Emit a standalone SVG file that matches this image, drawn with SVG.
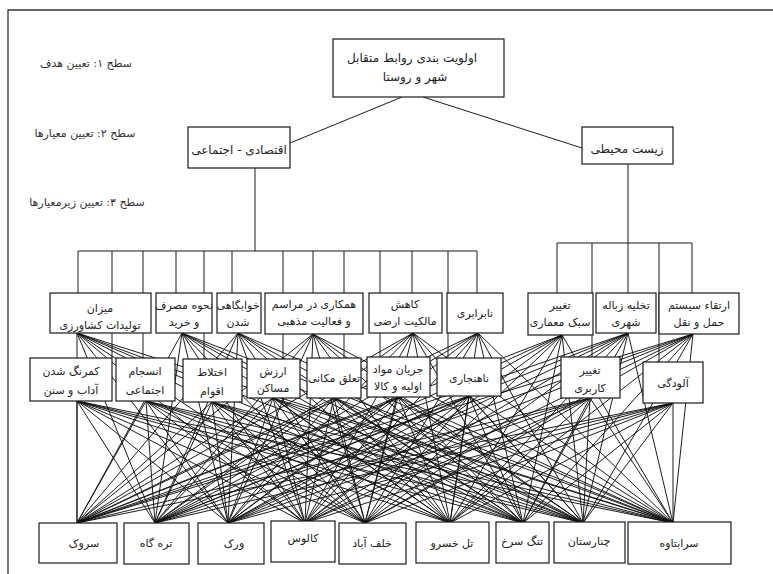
<svg xmlns="http://www.w3.org/2000/svg" width="773" height="574" viewBox="0 0 773 574">
<style>
.bx{fill:#fff;stroke:#1a1a1a;stroke-width:1.2}
.ln{fill:none;stroke:#111;stroke-width:0.95}
.fr{fill:none;stroke:#333;stroke-width:1.3}
text{font-family:"DejaVu Sans",sans-serif;font-size:11px;fill:#222;text-anchor:middle}
.lv{font-size:11px;fill:#333}
.t11{font-size:12px}
</style>
<rect width="773" height="574" fill="#fff"/>
<path class="fr" d="M8 574 V10 H773"/>
<g id="levels">
<text class="lv" x="86" y="67">سطح ۱: تعیین هدف</text>
<text class="lv" x="85" y="137">سطح ۲: تعیین معیارها</text>
<text class="lv" x="87" y="206">سطح ۳: تعیین زیرمعیارها</text>
</g>
<g id="connectors">
<path class="ln" d="M402 97 L290 143 M423 97 L582 148"/>
<path class="ln" d="M255 168 V251 M78 251 H477 M628 164 V243 M557 243 H692"/>
<path class="ln" d="M78 251 V293 M112 251 V358 M143 251 V358 M176 251 V293 M204 251 V359 M232 251 V293 M283 251 V359 M313 251 V293 M344 251 V358 M380 251 V357 M412 251 V293 M448 251 V358 M477 251 V293"/>
<path class="ln" d="M557 243 V293 M592 243 V357 M628 243 V293 M659 243 V362 M692 243 V293"/>
<path class="ln" d="M77 333 L77 523 M77 333 L155 523 M77 333 L228 523 M77 333 L305 523 M77 333 L365 523 M77 333 L450 523 M77 333 L523 523 M77 333 L583 523 M77 333 L673 523"/>
<path class="ln" d="M182 333 L77 523 M182 333 L155 523 M182 333 L228 523 M182 333 L305 523 M182 333 L365 523 M182 333 L450 523 M182 333 L523 523 M182 333 L583 523 M182 333 L673 523"/>
<path class="ln" d="M238 333 L77 523 M238 333 L155 523 M238 333 L228 523 M238 333 L305 523 M238 333 L365 523 M238 333 L450 523 M238 333 L523 523 M238 333 L583 523 M238 333 L673 523"/>
<path class="ln" d="M313 334 L77 523 M313 334 L155 523 M313 334 L228 523 M313 334 L305 523 M313 334 L365 523 M313 334 L450 523 M313 334 L523 523 M313 334 L583 523 M313 334 L673 523"/>
<path class="ln" d="M413 333 L77 523 M413 333 L155 523 M413 333 L228 523 M413 333 L305 523 M413 333 L365 523 M413 333 L450 523 M413 333 L523 523 M413 333 L583 523 M413 333 L673 523"/>
<path class="ln" d="M478 333 L77 523 M478 333 L155 523 M478 333 L228 523 M478 333 L305 523 M478 333 L365 523 M478 333 L450 523 M478 333 L523 523 M478 333 L583 523 M478 333 L673 523"/>
<path class="ln" d="M562 335 L77 523 M562 335 L155 523 M562 335 L228 523 M562 335 L305 523 M562 335 L365 523 M562 335 L450 523 M562 335 L523 523 M562 335 L583 523 M562 335 L673 523"/>
<path class="ln" d="M628 333 L77 523 M628 333 L155 523 M628 333 L228 523 M628 333 L305 523 M628 333 L365 523 M628 333 L450 523 M628 333 L523 523 M628 333 L583 523 M628 333 L673 523"/>
<path class="ln" d="M693 334 L77 523 M693 334 L155 523 M693 334 L228 523 M693 334 L305 523 M693 334 L365 523 M693 334 L450 523 M693 334 L523 523 M693 334 L583 523 M693 334 L673 523"/>
<path class="ln" d="M77 401 L77 523 M77 401 L155 523 M77 401 L228 523 M77 401 L305 523 M77 401 L365 523 M77 401 L450 523 M77 401 L523 523 M77 401 L583 523 M77 401 L673 523"/>
<path class="ln" d="M146 401 L77 523 M146 401 L155 523 M146 401 L228 523 M146 401 L305 523 M146 401 L365 523 M146 401 L450 523 M146 401 L523 523 M146 401 L583 523 M146 401 L673 523"/>
<path class="ln" d="M212 402 L77 523 M212 402 L155 523 M212 402 L228 523 M212 402 L305 523 M212 402 L365 523 M212 402 L450 523 M212 402 L523 523 M212 402 L583 523 M212 402 L673 523"/>
<path class="ln" d="M273 398 L77 523 M273 398 L155 523 M273 398 L228 523 M273 398 L305 523 M273 398 L365 523 M273 398 L450 523 M273 398 L523 523 M273 398 L583 523 M273 398 L673 523"/>
<path class="ln" d="M334 398 L77 523 M334 398 L155 523 M334 398 L228 523 M334 398 L305 523 M334 398 L365 523 M334 398 L450 523 M334 398 L523 523 M334 398 L583 523 M334 398 L673 523"/>
<path class="ln" d="M398 397 L77 523 M398 397 L155 523 M398 397 L228 523 M398 397 L305 523 M398 397 L365 523 M398 397 L450 523 M398 397 L523 523 M398 397 L583 523 M398 397 L673 523"/>
<path class="ln" d="M469 396 L77 523 M469 396 L155 523 M469 396 L228 523 M469 396 L305 523 M469 396 L365 523 M469 396 L450 523 M469 396 L523 523 M469 396 L583 523 M469 396 L673 523"/>
<path class="ln" d="M590 398 L77 523 M590 398 L155 523 M590 398 L228 523 M590 398 L305 523 M590 398 L365 523 M590 398 L450 523 M590 398 L523 523 M590 398 L583 523 M590 398 L673 523"/>
<path class="ln" d="M673 403 L77 523 M673 403 L155 523 M673 403 L228 523 M673 403 L305 523 M673 403 L365 523 M673 403 L450 523 M673 403 L523 523 M673 403 L583 523 M673 403 L673 523"/>
</g>
<g id="goal"><rect class="bx" x="333" y="39" width="171" height="58"/><text class="t11" x="412" y="62">اولویت بندی روابط متقابل</text><text class="t11" x="415" y="81">شهر و روستا</text></g>
<g id="c-econ"><rect class="bx" x="188" y="127" width="102" height="41"/><text class="t11" x="239" y="154">اقتصادی - اجتماعی</text></g>
<g id="c-env"><rect class="bx" x="582" y="127" width="91" height="37"/><text class="t11" x="627" y="153">زیست محیطی</text></g>
<g id="s1"><rect class="bx" x="50" y="293" width="101" height="40"/><text x="100" y="312">میزان</text><text x="100" y="329">تولیدات کشاورزی</text></g>
<g id="s2"><rect class="bx" x="156" y="293" width="56" height="40"/><text x="184" y="309">نحوه مصرف</text><text x="184" y="326">و خرید</text></g>
<g id="s3"><rect class="bx" x="217" y="293" width="44" height="40"/><text x="238" y="309">خوابگاهی</text><text x="238" y="326">شدن</text></g>
<g id="s4"><rect class="bx" x="265" y="293" width="98" height="41"/><text x="314" y="308">همکاری در مراسم</text><text x="314" y="325">و فعالیت مذهبی</text></g>
<g id="s5"><rect class="bx" x="369" y="293" width="73" height="40"/><text x="405" y="308">کاهش</text><text x="405" y="325">مالکیت ارضی</text></g>
<g id="s6"><rect class="bx" x="447" y="293" width="56" height="40"/><text x="475" y="317">نابرابری</text></g>
<g id="s7"><rect class="bx" x="528" y="293" width="65" height="42"/><text x="560" y="309">تغییر</text><text x="560" y="326">سبک معماری</text></g>
<g id="s8"><rect class="bx" x="596" y="293" width="60" height="40"/><text x="626" y="309">تخلیه زباله</text><text x="626" y="326">شهری</text></g>
<g id="s9"><rect class="bx" x="659" y="293" width="80" height="41"/><text x="699" y="309">ارتقاء سیستم</text><text x="699" y="326">حمل و نقل</text></g>
<g id="s10"><rect class="bx" x="30" y="358" width="82" height="43"/><text x="71" y="375">کمرنگ شدن</text><text x="71" y="394">آداب و سنن</text></g>
<g id="s11"><rect class="bx" x="116" y="358" width="59" height="43"/><text x="145" y="375">انسجام</text><text x="145" y="394">اجتماعی</text></g>
<g id="s12"><rect class="bx" x="183" y="359" width="59" height="43"/><text x="212" y="376">اختلاط</text><text x="212" y="395">اقوام</text></g>
<g id="s13"><rect class="bx" x="247" y="359" width="53" height="39"/><text x="273" y="375">ارزش</text><text x="273" y="392">مساکن</text></g>
<g id="s14"><rect class="bx" x="307" y="358" width="54" height="40"/><text x="334" y="382">تعلق مکانی</text></g>
<g id="s15"><rect class="bx" x="367" y="357" width="63" height="40"/><text x="398" y="373">جریان مواد</text><text x="398" y="390">اولیه و کالا</text></g>
<g id="s16"><rect class="bx" x="437" y="358" width="64" height="38"/><text x="469" y="382">ناهنجاری</text></g>
<g id="s17"><rect class="bx" x="561" y="357" width="59" height="41"/><text x="590" y="374">تغییر</text><text x="590" y="392">کاربری</text></g>
<g id="s18"><rect class="bx" x="643" y="362" width="60" height="41"/><text x="673" y="387">آلودگی</text></g>
<g id="a1"><rect class="bx" x="39" y="523" width="78" height="40"/><text x="84" y="547">سروک</text></g>
<g id="a2"><rect class="bx" x="124" y="523" width="65" height="41"/><text x="156" y="547">تره گاه</text></g>
<g id="a3"><rect class="bx" x="198" y="523" width="66" height="41"/><text x="234" y="547">ورک</text></g>
<g id="a4"><rect class="bx" x="271" y="521" width="64" height="41"/><text x="303" y="542">کالوس</text></g>
<g id="a5"><rect class="bx" x="339" y="523" width="67" height="41"/><text x="372" y="547">خلف آباد</text></g>
<g id="a6"><rect class="bx" x="416" y="522" width="73" height="41"/><text x="452" y="547">تل خسرو</text></g>
<g id="a7"><rect class="bx" x="496" y="522" width="53" height="41"/><text x="522" y="545">تنگ سرخ</text></g>
<g id="a8"><rect class="bx" x="554" y="522" width="71" height="41"/><text x="589" y="545">چنارستان</text></g>
<g id="a9"><rect class="bx" x="628" y="522" width="103" height="42"/><text x="679" y="547">سرابتاوه</text></g>
</svg>
